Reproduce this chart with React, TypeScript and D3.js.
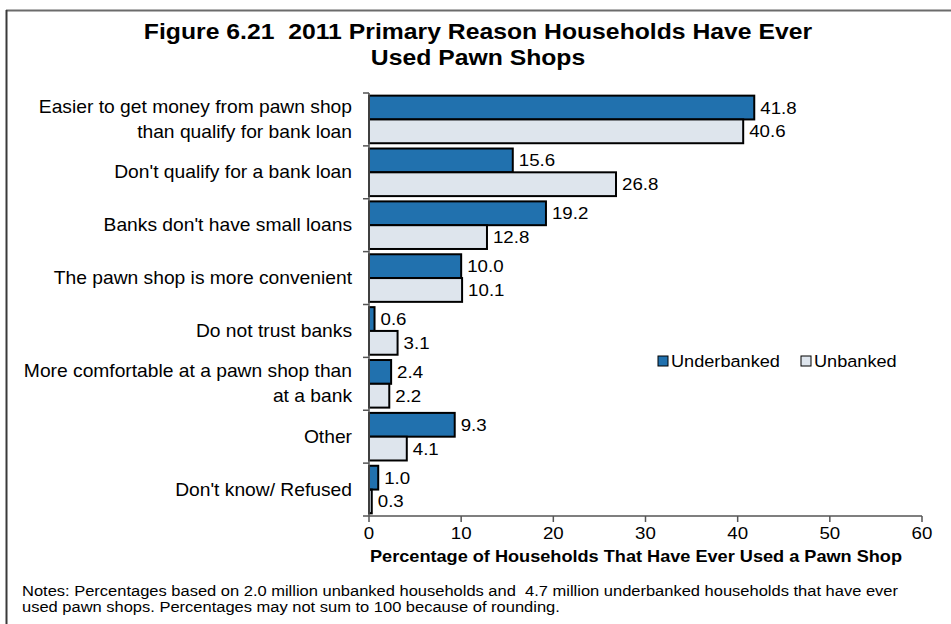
import React from "react";
import * as d3 from "d3";

const categories: string[][] = [
  ["Easier to get money from pawn shop", "than qualify for bank loan"],
  ["Don't qualify for a bank loan"],
  ["Banks don't have small loans"],
  ["The pawn shop is more convenient"],
  ["Do not trust banks"],
  ["More comfortable at a pawn shop than", "at a bank"],
  ["Other"],
  ["Don't know/ Refused"],
];
const underbanked = [41.8, 15.6, 19.2, 10.0, 0.6, 2.4, 9.3, 1.0];
const unbanked = [40.6, 26.8, 12.8, 10.1, 3.1, 2.2, 4.1, 0.3];
const seriesNames = ["Underbanked", "Unbanked"];
const xTicks = [0, 10, 20, 30, 40, 50, 60];

const W = 951;
const H = 624;
const FONT = "'Liberation Sans', Arial, Helvetica, sans-serif";
const C_UNDER = "#2171AE";
const C_UN = "#DEE5ED";
const SX = 1.1;

type TProps = {
  x: number;
  y: number;
  size: number;
  anchor?: "start" | "middle" | "end";
  bold?: boolean;
  sx?: number;
  children: React.ReactNode;
};
function T({ x, y, size, anchor = "start", bold = false, sx = SX, children }: TProps) {
  return (
    <text
      transform={`translate(${x},${y}) scale(${sx},1)`}
      textAnchor={anchor}
      fontSize={size}
      fontWeight={bold ? "bold" : "normal"}
      fill="#000"
      style={{ whiteSpace: "pre" }}
    >
      {children}
    </text>
  );
}

export default function App() {
  const left = 369;
  const right = 922;
  const top = 93;
  const bottom = 516;
  const x = d3.scaleLinear().domain([0, 60]).range([left, right]);
  const y = d3
    .scaleBand<number>()
    .domain(d3.range(categories.length))
    .range([top, bottom])
    .paddingInner(0.1)
    .paddingOuter(0.05);
  const bw = y.bandwidth() / 2;
  const step = y.step();
  const series = [underbanked, unbanked];
  const colors = [C_UNDER, C_UN];
  const legendX = [658, 801];

  return (
    <div style={{ position: "fixed", left: 0, top: 0 }}>
      <svg width={W} height={H} style={{ display: "block", background: "#fff" }} fontFamily={FONT}>
        {/* frame */}
        <line x1={6} y1={10.5} x2={W} y2={10.5} stroke="#6b6b6b" strokeWidth={2} />
        <line x1={6.5} y1={10} x2={6.5} y2={H} stroke="#3a3a3a" strokeWidth={2} />

        {/* title */}
        <T x={478} y={39} size={22} anchor="middle" bold sx={1.125}>
          Figure 6.21  2011 Primary Reason Households Have Ever
        </T>
        <T x={478} y={65} size={22} anchor="middle" bold sx={1.125}>
          Used Pawn Shops
        </T>

        {/* bars */}
        {series.map((vals, si) =>
          vals.map((v, i) => {
            const by = (y(i) as number) + si * bw;
            return (
              <g key={`${si}-${i}`}>
                <rect
                  x={x(0)}
                  y={by}
                  width={x(v) - x(0)}
                  height={bw}
                  fill={colors[si]}
                  stroke="#000"
                  strokeWidth={2}
                />
                <T x={x(v) + 6} y={by + bw / 2 + 6} size={17}>
                  {v.toFixed(1)}
                </T>
              </g>
            );
          })
        )}

        {/* y axis */}
        <line x1={left} y1={top} x2={left} y2={bottom} stroke="#555" strokeWidth={1.5} />
        {d3.range(categories.length + 1).map((i) => {
          const ty = top + i * step;
          return <line key={i} x1={left - 6} x2={left} y1={ty} y2={ty} stroke="#555" strokeWidth={1.5} />;
        })}
        {categories.map((lines, i) => {
          const cy = (y(i) as number) + y.bandwidth() / 2;
          const lh = 25;
          const start = cy - ((lines.length - 1) * lh) / 2;
          return lines.map((t, k) => (
            <T key={`${i}-${k}`} x={352} y={start + k * lh + 6} size={17.5} anchor="end">
              {t}
            </T>
          ));
        })}

        {/* x axis */}
        <line x1={left} y1={bottom} x2={right} y2={bottom} stroke="#555" strokeWidth={1.5} />
        {xTicks.map((t) => (
          <g key={t}>
            <line x1={x(t)} x2={x(t)} y1={bottom} y2={bottom + 6} stroke="#555" strokeWidth={1.5} />
            <T x={x(t)} y={bottom + 23} size={17} anchor="middle">
              {t}
            </T>
          </g>
        ))}
        <T x={636} y={bottom + 46} size={16.5} anchor="middle" bold>
          Percentage of Households That Have Ever Used a Pawn Shop
        </T>

        {/* legend */}
        {seriesNames.map((n, i) => {
          const lx = legendX[i];
          return (
            <g key={n}>
              <rect x={lx} y={356} width={10} height={10} fill={colors[i]} stroke="#000" strokeWidth={1} />
              <T x={lx + 13} y={367} size={16.5}>
                {n}
              </T>
            </g>
          );
        })}

        {/* notes */}
        <T x={22} y={596} size={15}>
          Notes: Percentages based on 2.0 million unbanked households and  4.7 million underbanked households that have ever
        </T>
        <T x={22} y={612} size={15}>
          used pawn shops. Percentages may not sum to 100 because of rounding.
        </T>
      </svg>
    </div>
  );
}
